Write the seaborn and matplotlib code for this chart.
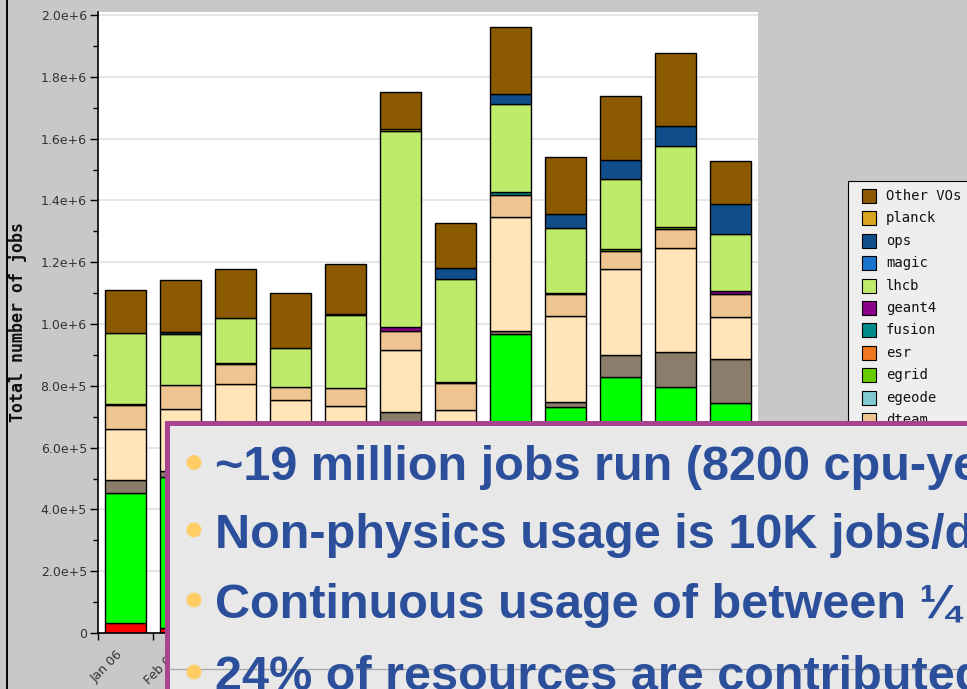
import numpy as np
import pandas as pd
import matplotlib
matplotlib.use('Agg')
import matplotlib.pyplot as plt
import seaborn as sns
from matplotlib.patches import Rectangle, Circle
from matplotlib.ticker import FuncFormatter, MultipleLocator, FixedLocator

# 월별 VO 작업 수 (단위: 천 건)
months = ['Jan 06', 'Feb 06', 'Mar 06', 'Apr 06', 'May 06', 'Jun 06',
          'Jul 06', 'Aug 06', 'Sep 06', 'Oct 06', 'Nov 06', 'Dec 06']

alice  = [31, 17, 20, 20, 20, 20, 20, 20, 20, 20, 20, 20]
atlas  = [421, 488, 450, 400, 430, 580, 500, 947, 710, 810, 777, 723]
babar  = [43, 18, 30, 30, 30, 116, 40, 9, 18, 69, 111, 143]
biomed = [0] * 12
cms    = [165, 202, 307, 303, 254, 200, 162, 372, 278, 280, 337, 138]
dteam  = [79, 78, 63, 43, 60, 61, 86, 71, 70, 58, 62, 72]
egeode = [0] * 12
egrid  = [3, 0, 4, 0, 0, 0, 4, 0, 4, 6, 6, 0]
esr    = [0] * 12
fusion = [0, 0, 0, 0, 0, 0, 0, 7, 0, 0, 0, 0]
geant4 = [0, 0, 0, 0, 0, 12, 0, 0, 0, 0, 0, 11]
lhcb   = [230, 164, 144, 128, 235, 637, 335, 286, 211, 227, 263, 186]
magic  = [0] * 12
ops    = [0, 7, 0, 0, 0, 0, 35, 32, 46, 61, 65, 95]
planck = [0, 0, 0, 0, 3, 4, 0, 0, 0, 0, 0, 0]
other  = [137, 169, 160, 176, 161, 121, 144, 216, 183, 206, 237, 139]

# 범례 순서 (위 -> 아래)
vo_order = ['Other VOs', 'planck', 'ops', 'magic', 'lhcb', 'geant4', 'fusion',
            'esr', 'egrid', 'egeode', 'dteam', 'cms', 'biomed', 'babar',
            'atlas', 'alice']
vo_values = {'Other VOs': other, 'planck': planck, 'ops': ops, 'magic': magic,
             'lhcb': lhcb, 'geant4': geant4, 'fusion': fusion, 'esr': esr,
             'egrid': egrid, 'egeode': egeode, 'dteam': dteam, 'cms': cms,
             'biomed': biomed, 'babar': babar, 'atlas': atlas, 'alice': alice}
vo_colors = {'Other VOs': '#8B5A00', 'planck': '#DAA520', 'ops': '#104E8B',
             'magic': '#1874CD', 'lhcb': '#BFEB6A', 'geant4': '#8B008B',
             'fusion': '#008B8B', 'esr': '#F07820', 'egrid': '#66CC00',
             'egeode': '#7FCBD1', 'dteam': '#EEC591', 'cms': '#FFE5B8',
             'biomed': '#CD5C5C', 'babar': '#8B7D6B', 'atlas': '#00FF00',
             'alice': '#FF0000'}

bullets = ['~19 million jobs run (8200 cpu-years)',
           'Non-physics usage is 10K jobs/day',
           'Continuous usage of between \u00bc and \u00bd',
           '24% of resources are contributed by']

rows = []
for vo in vo_order:
    for i, v in enumerate(vo_values[vo]):
        if v > 0:
            rows.append({'month': i, 'vo': vo, 'jobs': v * 1000})
df = pd.DataFrame(rows)

W, H = 967, 689
fig = plt.figure(figsize=(W / 100, H / 100), dpi=100)
fig.patch.set_facecolor('#C8C8C8')

# 차트 영역 (픽셀 기준)
ax = fig.add_axes([98 / W, (H - 633) / H, 660 / W, (633 - 12) / H])
ax.set_facecolor('white')
ax.set_axisbelow(True)

present = [vo for vo in vo_order if vo in df['vo'].unique()]
sns.histplot(data=df, x='month', weights='jobs', hue='vo', hue_order=present,
             multiple='stack', discrete=True, shrink=0.745,
             palette=vo_colors, edgecolor='black', linewidth=1.0, alpha=1,
             legend=False, ax=ax)
for p in list(ax.patches):
    if p.get_height() == 0:
        p.remove()

ax.set_xlim(-0.5, 11.5)
ax.set_ylim(0, 2.01e6)
ax.set_xlabel('')
ax.set_ylabel('')

ax.yaxis.set_major_locator(MultipleLocator(2e5))
ax.yaxis.set_minor_locator(MultipleLocator(1e5))
ax.yaxis.set_major_formatter(FuncFormatter(
    lambda v, pos: '0' if v == 0 else f'{v:.1e}'.replace('e+0', 'e+')))
ax.grid(axis='y', which='major', color='#E2E2E2', linewidth=1.2)
ax.tick_params(axis='y', which='major', length=6, width=1, labelsize=9,
               labelcolor='#333333', pad=2)
ax.tick_params(axis='y', which='minor', length=3.5, width=1)

ax.xaxis.set_major_locator(FixedLocator(range(12)))
ax.set_xticklabels(months, rotation=45, ha='right', fontsize=9, color='#333333')
ax.xaxis.set_minor_locator(FixedLocator(np.arange(-0.5, 12, 1)))
ax.tick_params(axis='x', which='major', length=0, pad=11)
ax.tick_params(axis='x', which='minor', length=5, width=1)

for s in ['top', 'right']:
    ax.spines[s].set_visible(False)
for s in ['left', 'bottom']:
    ax.spines[s].set_color('black')
    ax.spines[s].set_linewidth(1.2)

fig.text(18 / W, 1 - 322 / H, 'Total number of jobs', rotation=90,
         ha='center', va='center', family='DejaVu Sans Mono', fontsize=12,
         weight='bold', color='#111111')

# 슬라이드 오버레이 (픽셀 좌표)
ov = fig.add_axes([0, 0, 1, 1], zorder=10)
ov.set_xlim(0, W)
ov.set_ylim(H, 0)
ov.axis('off')
ov.patch.set_alpha(0)
ov.plot([6.5, 6.5], [0, H], color='black', lw=1.4)

# 범례
ov.add_patch(Rectangle((847.5, 180.5), 160, 300, facecolor='#EEEEEE',
                       edgecolor='black', linewidth=0.8, zorder=1))
for k, vo in enumerate(vo_order):
    yc = 196 + k * 22.4
    ov.add_patch(Rectangle((862, yc - 7), 14, 14, facecolor=vo_colors[vo],
                           edgecolor='black', linewidth=0.8, zorder=1.1))
    ov.text(886, yc, vo, va='center', ha='left', family='DejaVu Sans Mono',
            fontsize=10, color='#111111', zorder=1.2)

ov.add_patch(Rectangle((166.5, 422.5), 900, 400, facecolor='#E8E8E8',
                       edgecolor='#A8448F', linewidth=3.6, zorder=2))
ov.plot([169, W], [669, 669], color='#A8A8A8', lw=0.9, zorder=3)

line_base = [480.5, 548, 618, 690]
for txt, yb in zip(bullets, line_base):
    ov.add_patch(Circle((194, yb - 18), 7.4, facecolor='#FFCC66',
                        edgecolor='none', zorder=4))
    ov.text(215, yb, txt, va='baseline', ha='left', fontsize=35,
            weight='bold', color='#2B4F9B',
            family=['Liberation Sans', 'DejaVu Sans'], zorder=5)

fig.savefig('out.png', dpi=100, facecolor=fig.get_facecolor())
